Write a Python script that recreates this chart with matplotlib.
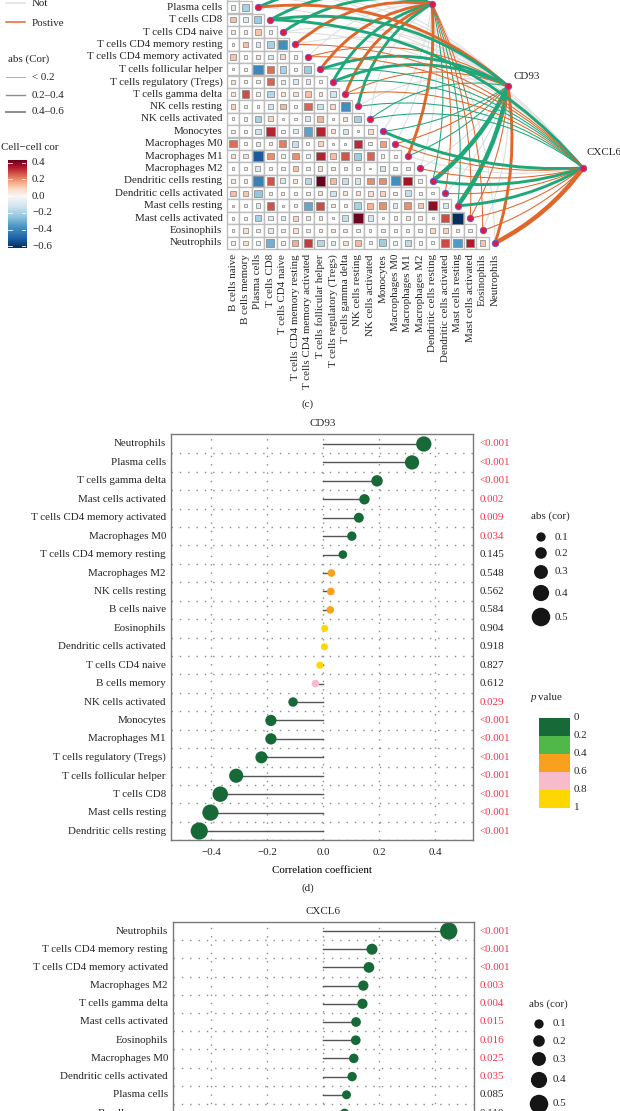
import numpy as np
import matplotlib
matplotlib.use('Agg')
import matplotlib.pyplot as plt
from matplotlib.colors import TwoSlopeNorm, ListedColormap
from matplotlib.patches import Rectangle, PathPatch
from matplotlib.path import Path

plt.rcParams['font.family'] = ['Liberation Serif', 'DejaVu Serif']
plt.rcParams['font.size'] = 7.9
plt.rcParams['text.color'] = '#262626'

cells = ['B cells naive', 'B cells memory', 'Plasma cells', 'T cells CD8', 'T cells CD4 naive',
         'T cells CD4 memory resting', 'T cells CD4 memory activated', 'T cells follicular helper',
         'T cells regulatory (Tregs)', 'T cells gamma delta', 'NK cells resting', 'NK cells activated',
         'Monocytes', 'Macrophages M0', 'Macrophages M1', 'Macrophages M2', 'Dendritic cells resting',
         'Dendritic cells activated', 'Mast cells resting', 'Mast cells activated', 'Eosinophils',
         'Neutrophils']

# lower triangle of the cell-cell correlation matrix, row by row
cell_cor = [
    [],
    [0.08],
    [-0.08, -0.2],
    [0.13, -0.08, -0.22],
    [0.05, 0.04, 0.12, -0.05],
    [0.03, 0.13, -0.09, -0.2, -0.38],
    [0.12, 0.04, 0.06, -0.09, 0.1, 0.04],
    [-0.02, 0.04, -0.4, 0.24, -0.2, -0.05, -0.22],
    [0.07, 0.04, -0.04, 0.25, -0.06, -0.09, -0.08, 0.03],
    [0.05, 0.28, -0.04, -0.18, 0.07, 0.08, 0.13, 0.05, -0.12],
    [0.1, -0.04, -0.02, -0.12, 0.14, -0.05, 0.25, -0.14, 0.09, -0.38],
    [0.03, 0.05, -0.2, 0.1, 0.02, 0.02, -0.1, 0.15, 0.02, 0.07, -0.2],
    [0.04, 0.05, -0.13, 0.33, -0.05, -0.07, -0.33, 0.33, 0.07, -0.12, -0.01, 0.08],
    [0.24, 0.03, -0.07, 0.05, 0.22, -0.15, 0.03, 0.1, 0.02, -0.01, 0.32, -0.05, 0.18],
    [0.07, 0.08, -0.52, 0.2, -0.05, 0.2, -0.05, 0.33, 0.13, 0.27, -0.22, 0.25, -0.04, 0.03],
    [0.03, 0.03, -0.1, 0.03, -0.05, 0.13, -0.05, 0.07, 0.05, 0.05, -0.05, 0.01, -0.12, -0.06, 0.06],
    [0.05, 0.05, -0.42, 0.27, -0.1, 0.06, -0.17, 0.43, 0.14, -0.15, -0.12, 0.2, 0.2, -0.38, 0.36, 0.05],
    [0.13, 0.12, -0.24, 0.05, 0.03, 0.04, 0.04, 0.07, -0.13, 0.06, 0.07, 0.08, 0.1, 0.05, -0.15, 0.03, 0.02],
    [0.01, -0.05, -0.08, 0.27, 0.02, -0.05, -0.32, 0.28, 0.05, 0.05, -0.2, 0.15, 0.2, -0.08, 0.2, 0.12, 0.38, -0.1],
    [0.03, 0.03, -0.2, -0.07, -0.07, 0.1, 0.05, 0.05, 0.02, -0.15, 0.42, -0.12, 0.01, 0.04, 0.05, 0.05, 0.01, 0.28, -0.62],
    [-0.03, 0.07, -0.06, -0.07, -0.05, 0.07, -0.05, 0.05, 0.06, 0.06, -0.05, 0.02, -0.06, -0.04, 0.04, 0.05, 0.09, 0.1, 0.05, 0.05],
    [-0.04, 0.08, -0.04, -0.3, 0.04, 0.16, 0.3, -0.18, -0.08, 0.08, 0.14, -0.03, -0.22, -0.05, -0.16, 0.04, -0.03, 0.28, -0.35, 0.34, 0.12],
]

# CD93 panel, top to bottom
cd93_names = ['Neutrophils', 'Plasma cells', 'T cells gamma delta', 'Mast cells activated',
              'T cells CD4 memory activated', 'Macrophages M0', 'T cells CD4 memory resting',
              'Macrophages M2', 'NK cells resting', 'B cells naive', 'Eosinophils',
              'Dendritic cells activated', 'T cells CD4 naive', 'B cells memory', 'NK cells activated',
              'Monocytes', 'Macrophages M1', 'T cells regulatory (Tregs)', 'T cells follicular helper',
              'T cells CD8', 'Mast cells resting', 'Dendritic cells resting']
cd93_cor = [0.36, 0.318, 0.193, 0.148, 0.128, 0.103, 0.071, 0.03, 0.028, 0.026, 0.006, 0.005,
            -0.011, -0.027, -0.107, -0.186, -0.186, -0.22, -0.31, -0.367, -0.402, -0.442]
cd93_p = ['<0.001', '<0.001', '<0.001', '0.002', '0.009', '0.034', '0.145', '0.548', '0.562', '0.584',
          '0.904', '0.918', '0.827', '0.612', '0.029', '<0.001', '<0.001', '<0.001', '<0.001', '<0.001',
          '<0.001', '<0.001']

# CXCL6 panel, only the rows that fit in the picture
cxcl6_names = ['Neutrophils', 'T cells CD4 memory resting', 'T cells CD4 memory activated', 'Macrophages M2',
               'T cells gamma delta', 'Mast cells activated', 'Eosinophils', 'Macrophages M0',
               'Dendritic cells activated', 'Plasma cells', 'B cells memory']
cxcl6_cor = [0.449, 0.175, 0.164, 0.144, 0.141, 0.118, 0.117, 0.11, 0.104, 0.084, 0.077]
cxcl6_p = ['<0.001', '<0.001', '<0.001', '0.003', '0.004', '0.015', '0.016', '0.025', '0.035', '0.085', '0.110']

cxcl6_other = {'B cells naive': -0.02, 'T cells CD8': -0.28, 'T cells CD4 naive': -0.03,
               'T cells follicular helper': -0.17, 'T cells regulatory (Tregs)': -0.13, 'NK cells resting': -0.13,
               'NK cells activated': -0.11, 'Monocytes': -0.31, 'Macrophages M1': -0.05,
               'Dendritic cells resting': -0.2, 'Mast cells resting': -0.25}
top_gene_cor = [0.05, -0.05, -0.28, -0.33, -0.25, 0.3, 0.03, 0.3, -0.3, 0.28, -0.3, -0.05, -0.06, 0.05, 0.3,
                0.05, -0.13, 0.12, -0.13, 0.13, 0.12, 0.05]

size_levels = [0.1, 0.2, 0.3, 0.4, 0.5]
p_edges = ['0', '0.2', '0.4', '0.6', '0.8', '1']
p_colors = ['#176a37', '#4fb848', '#f9a11c', '#f7bccb', '#ffd700']
bar_ticks = [0.4, 0.2, 0.0, -0.2, -0.4, -0.6]
cor_xticks = [-0.4, -0.2, 0.0, 0.2, 0.4]

W, H = 620, 1111
GREEN = '#1fa77a'
ORANGE = '#e0662a'
GREY = '#dedede'
RED = '#f5344a'


def px_axes(left, top, right, bottom):
    return fig.add_axes([left / W, 1 - bottom / H, (right - left) / W, (bottom - top) / H])


def dot_px(cor):
    return 7.0 + 23.0 * abs(cor)


def dot_area(cor):
    return (dot_px(cor) * 0.72) ** 2


def link_width(cor):
    if abs(cor) < 0.2:
        return 0.75
    return 2.1 if abs(cor) < 0.4 else 3.2


fig = plt.figure(figsize=(W / 100, H / 100), dpi=100)
ov = fig.add_axes([0, 0, 1, 1])
ov.set_xlim(0, W)
ov.set_ylim(H, 0)
ov.axis('off')

# heatmap + network share cell coordinates, the axes run off the top of the figure
dx, dy = 12.48, 12.4
x0, y0 = 233.0, -17.5
net = px_axes(x0 - dx / 2, y0 - dy, 620, y0 + 21.5 * dy)
net.set_xlim(-0.5, (620 - x0) / dx)
net.set_ylim(21.5, -1)
net.axis('off')

norm = TwoSlopeNorm(vmin=-0.62, vcenter=0, vmax=0.43)
cmap = plt.get_cmap('RdBu_r')
for i, row in enumerate(cell_cor):
    for j, v in enumerate(row):
        net.add_patch(Rectangle((j - 0.5, i - 0.5), 1, 1, fc='white', ec='#bdbdbd', lw=1.0, clip_on=False))
for i, row in enumerate(cell_cor):
    for j, v in enumerate(row):
        side = 0.9 * (abs(v) / 0.62) ** 0.45
        net.add_patch(Rectangle((j - side / 2, i - side / 2), side, side, fc=cmap(norm(v)),
                                ec='#8a8a8a', lw=0.55, clip_on=False))

gene_pos = {'top': (15.95, 1.71), 'CD93': (22.03, 8.35), 'CXCL6': (28.05, 14.96)}
lookup_cd93 = dict(zip(cd93_names, cd93_cor))
lookup_cxcl6 = dict(zip(cxcl6_names, cxcl6_cor))
lookup_cxcl6.update(cxcl6_other)
links = {'top': top_gene_cor,
         'CD93': [lookup_cd93[c] for c in cells],
         'CXCL6': [lookup_cxcl6[c] for c in cells]}

# grey links go underneath, coloured ones on top
for layer in ('grey', 'colour'):
    for gene, cors in links.items():
        gx, gy = gene_pos[gene]
        for i, cor in enumerate(cors):
            significant = abs(cor) >= 0.095
            if significant != (layer == 'colour'):
                continue
            ddx, ddy = (i - gx) * dx, (i - gy) * dy
            # upper nodes bow away from the matrix, lower ones bow the other way and less
            k = 0.12 if i >= 12 else -0.22
            cx = (gx * dx + i * dx) / 2 + k * ddy
            cy = (gy * dy + i * dy) / 2 - k * ddx
            colour = GREY if not significant else (GREEN if cor < 0 else ORANGE)
            path = Path([(gx, gy), (cx / dx, cy / dy), (i, i)], [Path.MOVETO, Path.CURVE3, Path.CURVE3])
            net.add_patch(PathPatch(path, fc='none', ec=colour, lw=link_width(cor) if significant else 0.8,
                                    capstyle='round', clip_on=False))

node_x = list(range(len(cells))) + [p[0] for p in gene_pos.values()]
node_y = list(range(len(cells))) + [p[1] for p in gene_pos.values()]
net.scatter(node_x, node_y, s=21, c='#e8173a', edgecolors='#6a5acd', linewidths=0.7, zorder=5, clip_on=False)

net.text(22.03 + 0.45, 8.35 - 0.75, 'CD93', ha='left', va='center')
net.text(28.05 + 0.25, 14.96 - 1.25, 'CXCL6', ha='left', va='center', clip_on=False)

for i, name in enumerate(cells):
    net.text(-0.85, i, name, ha='right', va='center', clip_on=False)
    net.text(i, 21.5 + 0.4, name, ha='center', va='top', rotation=90, clip_on=False)

# network legends, top left
for y, colour, label in [(3, GREY, 'Not'), (22, ORANGE, 'Postive')]:
    ov.plot([6, 25], [y, y], color=colour, lw=1.1)
    ov.text(32, y + 1, label, va='center')
ov.text(8, 59, 'abs (Cor)', va='center')
for y, lw, label in [(77, 0.5, '< 0.2'), (95, 1.0, '0.2–0.4'), (112, 1.4, '0.4–0.6')]:
    ov.plot([6, 25], [y, y], color='#8c8c8c', lw=lw)
    ov.text(32, y, label, va='center')

ov.text(1, 148, 'Cell−cell cor', va='center')
cbar = px_axes(8, 160, 26, 248)
grad = np.linspace(0.43, -0.62, 256).reshape(-1, 1)
cbar.imshow(grad, aspect='auto', cmap=cmap, norm=norm, extent=[0, 1, -0.62, 0.43])
cbar.set_xticks([])
cbar.set_yticks([])
for s in cbar.spines.values():
    s.set_visible(False)
for t in bar_ticks:
    cbar.plot([0, 0.2], [t, t], color='white', lw=0.6)
    cbar.plot([0.8, 1], [t, t], color='white', lw=0.6)
    ov.text(32, 248 - (t + 0.62) / 1.05 * 88, f'{t:.1f}'.replace('-', '−'), va='center')


def p_colour(label):
    if label.startswith('<'):
        return p_colors[0]
    return p_colors[min(int(float(label) / 0.2), 4)]


def lollipop(left, top, right, bottom, y_first, y_step, title, names, cors, pvals, with_xaxis):
    ax = px_axes(left, top, right, bottom)
    ax.set_xlim((left - 323) / 280, (right - 323) / 280)
    ax.set_ylim((bottom - y_first) / y_step, (top - y_first) / y_step)
    for t in cor_xticks:
        ax.axvline(t, color='#8a8a8a', lw=1.0, ls=(0, (1, 5)), zorder=0)
    n_rows = int(np.ceil((bottom - y_first) / y_step))
    for r in range(n_rows):
        ax.axhline(r + 0.5, color='#8a8a8a', lw=1.0, ls=(0, (1, 5)), zorder=0)
    for r, cor in enumerate(cors):
        ax.plot([0, cor], [r, r], color='#555555', lw=1.0, zorder=1)
    ax.scatter(cors, range(len(cors)), s=[dot_area(c) for c in cors], c=[p_colour(p) for p in pvals],
               linewidths=0, zorder=2)
    for s in ax.spines.values():
        s.set_color('#7a7a7a')
        s.set_linewidth(1.0)
    ax.set_yticks([])
    if with_xaxis:
        ax.set_xticks(cor_xticks)
        ax.set_xticklabels([f'{t:.1f}'.replace('-', '−') for t in cor_xticks])
        ax.tick_params(axis='x', length=0, pad=6, labelcolor='#262626')
        ax.set_xlabel('Correlation coefficient', labelpad=6)
    else:
        ax.set_xticks([])
    for r, (name, p) in enumerate(zip(names, pvals)):
        y_px = y_first + r * y_step
        ov.text(left - 5, y_px, name, ha='right', va='center')
        coloured = p.startswith('<') or float(p) < 0.05
        ov.text(480, y_px, p, ha='left', va='center', color=RED if coloured else '#262626')
    ov.text(323, top - 11, title, ha='center', va='center')
    return ax


def size_legend(title_x, title_y, cx, ys, label_x):
    ov.text(title_x, title_y, 'abs (cor)', ha='center', va='center')
    ov.scatter([cx] * len(ys), ys, s=[dot_area(v) for v in size_levels], c='#151515', linewidths=0)
    for y, v in zip(ys, size_levels):
        ov.text(label_x, y, f'{v:.1f}', va='center')


lollipop(171, 434, 473, 840, 444, 18.43, 'CD93', cd93_names, cd93_cor, cd93_p, True)
lollipop(173, 922, 474, 1130, 931, 18.2, 'CXCL6', cxcl6_names, cxcl6_cor, cxcl6_p, False)

ov.text(308, 404, '(c)', ha='center', va='center')
ov.text(308, 888, '(d)', ha='center', va='center')

size_legend(550, 516, 541, [537, 553, 572, 593, 617], 555)
size_legend(548, 1004, 539, [1024, 1041, 1059, 1080, 1104], 553)

ov.text(531, 698, 'p', va='center', style='italic')
ov.text(538, 698, 'value', va='center')
blocks = px_axes(539, 718, 570, 808)
blocks.imshow(np.arange(5).reshape(-1, 1), aspect='auto', cmap=ListedColormap(p_colors))
blocks.axis('off')
for k, label in enumerate(p_edges):
    ov.text(574, 718 + k * 18, label, va='center')

fig.savefig('out.png', dpi=100)
